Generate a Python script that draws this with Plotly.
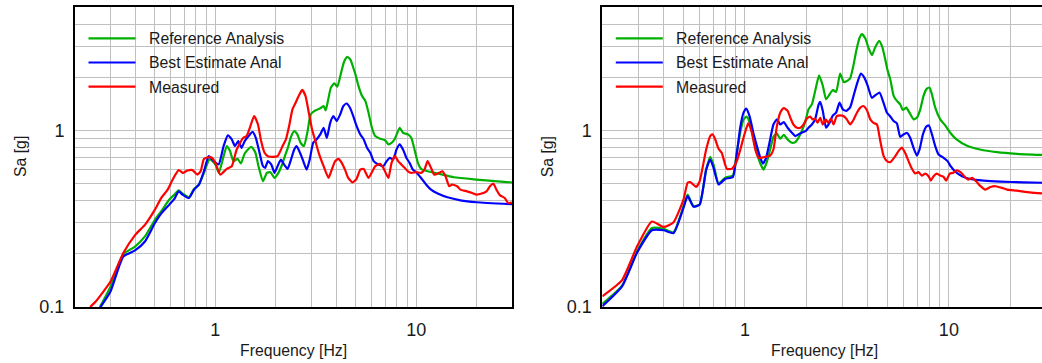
import math
import plotly.graph_objects as go

# ---------------- data ----------------
# Left panel
left_ref_f = [0.266, 0.3, 0.348, 0.398, 0.446, 0.5, 0.537, 0.59, 0.625, 0.656, 0.686, 0.739, 0.783, 0.829,
              0.877, 0.938, 1.0, 1.04, 1.099, 1.14, 1.184, 1.23, 1.29, 1.34, 1.40, 1.51, 1.58, 1.64, 1.726,
              1.805, 1.88, 1.97, 2.06, 2.14, 2.22, 2.31, 2.38, 2.47, 2.56, 2.66, 2.76, 2.87, 2.98, 3.12,
              3.24, 3.36, 3.46, 3.54, 3.62, 3.76, 3.91, 4.05, 4.21, 4.37, 4.54, 4.71, 4.89, 5.0, 5.15,
              5.37, 5.58, 5.79, 6.02, 6.25, 6.61, 7.0, 7.27, 7.54, 7.83, 8.28, 8.6, 9.1, 9.45, 9.81, 10.2,
              10.58, 11.4, 12.8, 15.4, 20.0, 30.0]
left_ref_sa = [0.1, 0.13, 0.199, 0.22, 0.251, 0.312, 0.348, 0.406, 0.433, 0.458, 0.439, 0.418, 0.466, 0.494,
               0.575, 0.69, 0.64, 0.575, 0.715, 0.815, 0.763, 0.67, 0.69, 0.65, 0.74, 0.808, 0.753, 0.627, 0.515,
               0.575, 0.58, 0.538, 0.575, 0.633, 0.715, 0.815, 0.92, 0.99, 0.95, 0.85, 0.815, 0.97, 1.23, 1.29,
               1.316, 1.345, 1.375, 1.30, 1.436, 1.747, 1.85, 1.77, 2.08, 2.44, 2.61, 2.51, 2.22, 2.05, 1.8,
               1.57, 1.47, 1.26, 1.035, 0.929, 0.897, 0.88, 0.833, 0.85, 0.897, 1.035, 0.97, 0.95, 0.908, 0.78, 0.655,
               0.606, 0.587, 0.57, 0.543, 0.527, 0.507]

left_best_f = [0.268, 0.3, 0.348, 0.398, 0.446, 0.5, 0.537, 0.59, 0.625, 0.656, 0.686, 0.739, 0.783, 0.829,
               0.877, 0.927, 0.982, 1.038, 1.099, 1.154, 1.207, 1.253, 1.30, 1.35, 1.40, 1.485, 1.53, 1.59,
               1.66, 1.726, 1.77, 1.826, 1.90, 1.97, 2.04, 2.12, 2.20, 2.29, 2.38, 2.47, 2.54, 2.64, 2.74,
               2.85, 2.95, 3.07, 3.19, 3.33, 3.46, 3.59, 3.73, 3.87, 4.02, 4.18, 4.34, 4.50, 4.68, 4.86,
               5.02, 5.27, 5.48, 5.69, 5.91, 6.14, 6.49, 6.86, 7.13, 7.40, 7.68, 7.98, 8.28, 8.6, 8.93,
               9.27, 9.63, 10.0, 10.58, 11.2, 11.85, 12.8, 14.3, 16.6, 20.0, 30.0]
left_best_sa = [0.1, 0.122, 0.193, 0.209, 0.235, 0.299, 0.338, 0.38, 0.409, 0.452, 0.433, 0.414, 0.462, 0.494,
                0.587, 0.715, 0.67, 0.641, 0.815, 0.937, 0.889, 0.815, 0.87, 0.797, 0.87, 0.949, 0.983, 0.908,
                0.747, 0.627, 0.614, 0.67, 0.641, 0.575, 0.627, 0.684, 0.641, 0.606, 0.684, 0.78, 0.815, 0.747, 0.67,
                0.60, 0.684, 0.851, 0.889, 0.949, 1.035, 0.908, 1.105, 1.206, 1.13, 1.23, 1.375, 1.42, 1.345, 1.206,
                1.08, 0.949, 0.889, 0.797, 0.747, 0.67, 0.641, 0.627, 0.67, 0.70, 0.685, 0.78, 0.833, 0.78, 0.70,
                0.655, 0.60, 0.58, 0.538, 0.494, 0.462, 0.439, 0.418, 0.402, 0.392, 0.382]

left_meas_f = [0.238, 0.253, 0.3, 0.348, 0.4, 0.446, 0.5, 0.537, 0.579, 0.613, 0.656, 0.69, 0.726, 0.769,
               0.813, 0.845, 0.877, 0.928, 0.96, 1.0, 1.058, 1.14, 1.207, 1.277, 1.377, 1.43, 1.485, 1.559,
               1.63, 1.69, 1.758, 1.826, 1.93, 2.04, 2.16, 2.245, 2.33, 2.42, 2.51, 2.61, 2.71, 2.81, 2.92,
               3.03, 3.15, 3.27, 3.46, 3.66, 3.80, 3.95, 4.10, 4.26, 4.42, 4.59, 4.82, 5.04, 5.27, 5.48,
               5.79, 6.25, 6.61, 6.86, 7.27, 7.54, 7.83, 8.13, 8.44, 8.76, 9.10, 9.45, 10.0, 10.58, 11.0,
               11.4, 11.85, 12.3, 13.0, 13.5, 14.0, 14.6, 15.1, 16.0, 16.6, 17.9, 19.0, 20.0, 21.2, 22.4,
               23.3, 24.2, 25.1, 26.1, 27.6, 28.7, 30.0]
left_meas_sa = [0.1, 0.107, 0.139, 0.202, 0.257, 0.292, 0.356, 0.414, 0.462, 0.527, 0.596, 0.575, 0.593, 0.596,
                0.562, 0.588, 0.69, 0.705, 0.70, 0.655, 0.562, 0.606, 0.627, 0.78, 0.908, 0.929, 1.035, 1.206,
                1.08, 0.87, 0.747, 0.715, 0.709, 0.715, 0.815, 0.889, 1.058, 1.316, 1.436, 1.58, 1.695, 1.567, 1.26,
                1.013, 0.87, 0.747, 0.627, 0.538, 0.60, 0.67, 0.69, 0.655, 0.60, 0.538, 0.508, 0.53, 0.60, 0.605,
                0.538, 0.627, 0.647, 0.614, 0.538, 0.655, 0.715, 0.67, 0.641, 0.614, 0.587, 0.575, 0.58, 0.575, 0.60,
                0.67, 0.614, 0.562, 0.575, 0.587, 0.55, 0.483, 0.494, 0.483, 0.462, 0.452, 0.442, 0.433, 0.439, 0.452,
                0.483, 0.50, 0.462, 0.43, 0.414, 0.388, 0.39]

# Right panel
right_ref_f = [0.2, 0.25, 0.296, 0.35, 0.4, 0.447, 0.5, 0.524, 0.56, 0.6, 0.646, 0.676, 0.702, 0.743, 0.80,
               0.873, 0.914, 0.95, 0.985, 1.023, 1.062, 1.10, 1.145, 1.19, 1.235, 1.28, 1.33, 1.38, 1.435,
               1.49, 1.55, 1.62, 1.70, 1.765, 1.83, 1.90, 1.98, 2.05, 2.13, 2.21, 2.31, 2.41, 2.50, 2.60,
               2.70, 2.80, 2.93, 3.05, 3.15, 3.28, 3.40, 3.53, 3.65, 3.75, 3.9, 4.05, 4.2, 4.35, 4.55, 4.7,
               4.85, 5.0, 5.16, 5.36, 5.56, 5.77, 5.95, 6.18, 6.41, 6.71, 6.97, 7.24, 7.51, 7.80, 8.04,
               8.26, 8.57, 9.07, 9.59, 10.15, 10.9, 12.2, 14.2, 17.2, 21.5, 30.0]
right_ref_sa = [0.104, 0.132, 0.206, 0.28, 0.277, 0.265, 0.372, 0.433, 0.372, 0.38, 0.60, 0.709, 0.64, 0.50, 0.54,
                0.555, 0.76, 0.98, 1.155, 1.196, 1.08, 0.908, 0.747, 0.649, 0.60, 0.661, 0.78, 0.92, 0.96,
                0.897, 0.945, 0.889, 0.851, 0.858, 0.908, 0.99, 1.13, 1.316, 1.405, 1.67, 2.05, 1.79, 1.50, 1.60,
                1.695, 1.65, 2.1, 1.88, 1.9, 1.97, 2.32, 2.89, 3.35, 3.51, 3.3, 2.9, 2.67, 2.95, 3.22, 3.0,
                2.6, 2.2, 1.95, 1.57, 1.47, 1.405, 1.305, 1.345, 1.26, 1.155, 1.18, 1.316, 1.57, 1.725, 1.747,
                1.60, 1.345, 1.155, 1.067, 0.97, 0.889, 0.822, 0.78, 0.753, 0.737, 0.725]

right_best_f = [0.2, 0.25, 0.296, 0.35, 0.4, 0.447, 0.5, 0.524, 0.56, 0.6, 0.646, 0.676, 0.702, 0.743, 0.80,
                0.873, 0.914, 0.95, 0.985, 1.015, 1.054, 1.10, 1.145, 1.19, 1.225, 1.27, 1.32, 1.38, 1.435,
                1.49, 1.55, 1.62, 1.70, 1.765, 1.83, 1.90, 1.98, 2.05, 2.13, 2.21, 2.30, 2.34, 2.41, 2.50,
                2.60, 2.70, 2.80, 2.91, 3.02, 3.14, 3.28, 3.41, 3.54, 3.70, 3.85, 4.0, 4.19, 4.35, 4.57,
                4.78, 4.97, 5.16, 5.36, 5.56, 5.77, 6.0, 6.22, 6.46, 6.71, 6.97, 7.18, 7.46, 7.74, 7.98,
                8.26, 8.57, 8.9, 9.42, 9.85, 10.2, 10.7, 11.6, 12.7, 14.8, 17.9, 23.2, 30.0]
right_best_sa = [0.101, 0.131, 0.203, 0.272, 0.272, 0.262, 0.364, 0.424, 0.37, 0.38, 0.60, 0.684, 0.614, 0.494,
                 0.531, 0.545, 0.747, 1.05, 1.26, 1.33, 1.206, 0.97, 0.815, 0.70, 0.649, 0.70, 0.851, 1.08, 1.155,
                 1.08, 1.115, 1.035, 0.97, 0.929, 0.95, 0.97, 0.99, 1.035, 1.08, 1.155, 1.405, 1.45, 1.29, 1.035,
                 1.105, 1.217, 1.26, 1.436, 1.316, 1.29, 1.35, 1.57, 1.83, 2.10, 1.99, 1.79, 1.53, 1.58, 1.64,
                 1.436, 1.26, 1.2, 1.13, 1.096, 0.92, 0.95, 0.97, 0.908, 0.797, 0.72, 0.78, 0.95, 1.05, 1.067,
                 0.95, 0.815, 0.73, 0.70, 0.67, 0.627, 0.587, 0.55, 0.531, 0.52, 0.513, 0.508, 0.505]

right_meas_f = [0.2, 0.25, 0.296, 0.35, 0.4, 0.447, 0.5, 0.524, 0.54, 0.577, 0.6, 0.646, 0.676, 0.694, 0.716,
                0.743, 0.77, 0.816, 0.864, 0.913, 0.95, 1.0, 1.04, 1.082, 1.124, 1.167, 1.235, 1.33, 1.38,
                1.435, 1.49, 1.55, 1.62, 1.67, 1.73, 1.80, 1.87, 1.94, 2.01, 2.09, 2.15, 2.21, 2.27, 2.34,
                2.41, 2.49, 2.56, 2.64, 2.72, 2.82, 2.93, 3.04, 3.16, 3.28, 3.41, 3.54, 3.68, 3.81, 3.96,
                4.12, 4.27, 4.44, 4.61, 4.79, 4.97, 5.16, 5.46, 5.66, 5.89, 6.1, 6.34, 6.59, 6.84, 7.1, 7.37,
                7.66, 7.95, 8.16, 8.41, 8.73, 9.07, 9.42, 9.7, 10.1, 10.5, 10.9, 11.4, 11.8, 12.4, 13.0, 13.6,
                14.2, 15.1, 16.0, 16.9, 18.2, 19.3, 21.5, 25.0, 30.0]
right_meas_sa = [0.115, 0.142, 0.22, 0.305, 0.284, 0.302, 0.406, 0.505, 0.51, 0.479, 0.515, 0.78, 0.929, 0.949,
                 0.889, 0.787, 0.747, 0.606, 0.606, 0.67, 0.78, 0.97, 1.1, 0.97, 0.78, 0.70, 0.705, 0.72, 0.78,
                 1.058, 1.26, 1.34, 1.29, 1.18, 1.08, 1.035, 1.035, 1.08, 1.165, 1.196, 1.155, 1.165, 1.105, 1.18,
                 1.08, 1.155, 1.105, 1.165, 1.08, 1.206, 1.217, 1.206, 1.155, 1.08, 1.15, 1.26, 1.345, 1.375, 1.305,
                 1.155, 1.105, 1.08, 0.87, 0.715, 0.67, 0.661, 0.715, 0.763, 0.80, 0.747, 0.67, 0.606, 0.57, 0.58, 0.555,
                 0.57, 0.55, 0.52, 0.55, 0.57, 0.555, 0.546, 0.52, 0.57, 0.575, 0.595, 0.58, 0.555, 0.527, 0.538, 0.515,
                 0.487, 0.462, 0.478, 0.483, 0.473, 0.462, 0.456, 0.446, 0.438]

series_names = ["Reference Analysis", "Best Estimate Anal", "Measured"]
series_colors = ["#00b000", "#0000ff", "#ff0000"]

x_grid_vals = [0.3, 0.4, 0.5, 0.6, 0.7, 0.8, 0.9, 1, 2, 3, 4, 5, 6, 7, 8, 9, 10, 20]
x_grid_text = ["", "", "", "", "", "", "", "1", "", "", "", "", "", "", "", "", "10", ""]
y_grid_vals = [0.1, 0.2, 0.3, 0.4, 0.5, 0.6, 0.7, 0.8, 0.9, 1, 2, 3, 4]
y_grid_text = ["0.1", "", "", "", "", "", "", "", "", "1", "", "", ""]

x_title = "Frequency [Hz]"
y_title = "Sa [g]"

# ---------------- layout geometry (pixels) ----------------
W, H = 1042, 363
FONT = "Liberation Sans, Arial, sans-serif"
TXT = "#1a1a1a"
GRID = "#c0c0c0"


def fx(p):
    return p / W


def fy(p):
    return 1 - p / H


panels = [
    dict(x0=75.0, x1=512.0, xr=[math.log10(0.2), math.log10(30)],
         data=[(left_ref_f, left_ref_sa), (left_best_f, left_best_sa), (left_meas_f, left_meas_sa)]),
    dict(x0=602.3, x1=1042.0, xr=[math.log10(0.2), math.log10(0.2) + (1042.0 - 602.3) / 204.0],
         data=[(right_ref_f, right_ref_sa), (right_best_f, right_best_sa), (right_meas_f, right_meas_sa)]),
]
PY0, PY1 = 7.0, 307.0
y_range = [-1, math.log10(5)]

fig = go.Figure()
layout = dict(width=W, height=H, margin=dict(l=0, r=0, t=0, b=0, autoexpand=False),
              paper_bgcolor="white", plot_bgcolor="white", showlegend=False,
              font=dict(family=FONT, color=TXT))
shapes = []
annotations = []

for i, p in enumerate(panels):
    n = i + 1
    xa = "x" if n == 1 else f"x{n}"
    ya = "y" if n == 1 else f"y{n}"
    for (f, sa), name, col in zip(p["data"], series_names, series_colors):
        fig.add_trace(go.Scatter(x=f, y=sa, mode="lines", name=name,
                                 line=dict(color=col, width=2.2, shape="spline", smoothing=0.5),
                                 xaxis=xa, yaxis=ya, cliponaxis=True))
    dom_x = [fx(p["x0"]), fx(p["x1"])]
    dom_y = [fy(PY1), fy(PY0)]
    layout[f"xaxis{'' if n == 1 else n}"] = dict(
        domain=dom_x, type="log", range=p["xr"], anchor=ya, automargin=False,
        tickmode="array", tickvals=x_grid_vals, ticktext=x_grid_text,
        ticks="", showgrid=True, gridcolor=GRID, gridwidth=1.2,
        showline=True, linecolor="black", linewidth=2, mirror=True,
        tickfont=dict(size=18, family=FONT, color=TXT), ticklabelstandoff=5)
    layout[f"yaxis{'' if n == 1 else n}"] = dict(
        domain=dom_y, type="log", range=y_range, anchor=xa, automargin=False,
        tickmode="array", tickvals=y_grid_vals, ticktext=y_grid_text,
        ticks="", showgrid=True, gridcolor=GRID, gridwidth=1.2,
        showline=True, linecolor="black", linewidth=2, mirror=True,
        tickfont=dict(size=18, family=FONT, color=TXT), ticklabelstandoff=5)
    # overlay axes giving the inside ticks on the top and right borders
    layout[f"xaxis{n + 4}"] = dict(
        overlaying=xa, side="top", anchor=ya, type="log", range=p["xr"], automargin=False,
        tickmode="array", tickvals=x_grid_vals, ticks="inside", ticklen=5, tickwidth=1.5,
        tickcolor="#222222", showticklabels=False, showgrid=False, showline=False)
    layout[f"yaxis{n + 4}"] = dict(
        overlaying=ya, side="right", anchor=xa, type="log", range=y_range, automargin=False,
        tickmode="array", tickvals=y_grid_vals, ticks="inside", ticklen=5, tickwidth=1.5,
        tickcolor="#222222", showticklabels=False, showgrid=False, showline=False)

    # axis titles (centred on the full 0.2-30 Hz frame)
    cx = p["x0"] + 0.5 * math.log10(30 / 0.2) * (p["x1"] - p["x0"]) / (p["xr"][1] - p["xr"][0])
    annotations.append(dict(text=x_title, x=fx(cx), y=fy(350), xref="paper", yref="paper",
                            xanchor="center", yanchor="middle", showarrow=False,
                            font=dict(size=15.8, family=FONT, color=TXT)))
    annotations.append(dict(text=y_title, x=fx(p["x0"] - 55), y=fy(157), xref="paper", yref="paper",
                            xanchor="center", yanchor="middle", textangle=-90, showarrow=False,
                            font=dict(size=15.8, family=FONT, color=TXT)))
    # legend (drawn by hand to match the long line samples)
    for k, (name, col) in enumerate(zip(series_names, series_colors)):
        ly = 38.3 + 24.2 * k
        shapes.append(dict(type="line", xref="paper", yref="paper",
                           x0=fx(p["x0"] + 13.5), x1=fx(p["x0"] + 60.5), y0=fy(ly), y1=fy(ly),
                           line=dict(color=col, width=2.2)))
        annotations.append(dict(text=name, x=fx(p["x0"] + 71.5), y=fy(ly + 0.5), xref="paper", yref="paper",
                                xanchor="left", yanchor="middle", showarrow=False,
                                font=dict(size=15.8, family=FONT, color=TXT)))

layout["shapes"] = shapes
layout["annotations"] = annotations
fig.update_layout(**layout)
fig.write_html("out.html")
